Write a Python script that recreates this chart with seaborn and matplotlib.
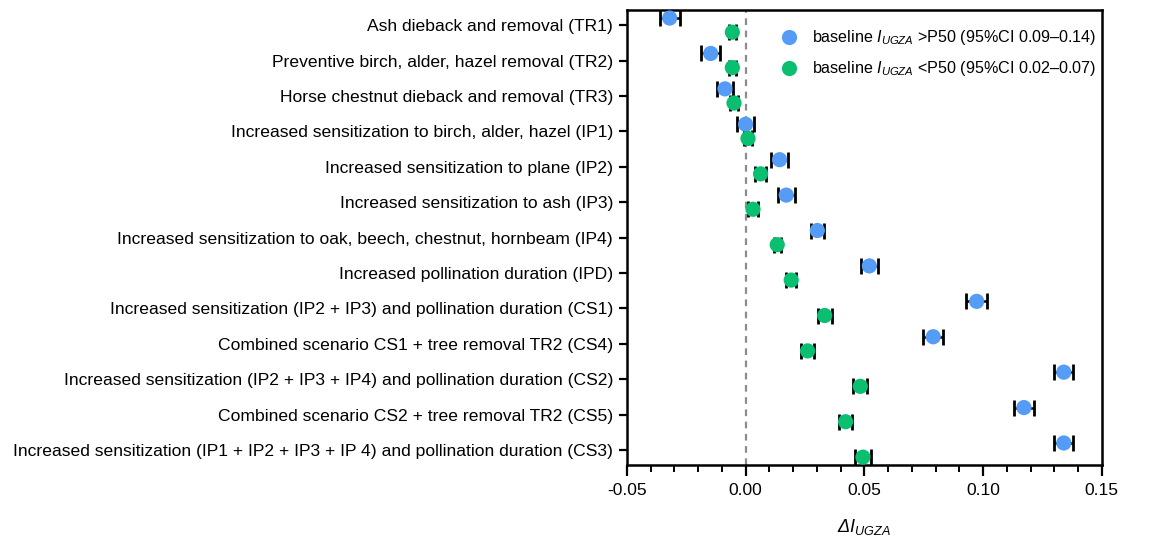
import pandas as pd
import seaborn as sns
import matplotlib.pyplot as plt
import numpy as np
from matplotlib.ticker import MultipleLocator, FormatStrFormatter

# Scenario labels (top to bottom)
scenarios = [
    "Ash dieback and removal (TR1)",
    "Preventive birch, alder, hazel removal (TR2)",
    "Horse chestnut dieback and removal (TR3)",
    "Increased sensitization to birch, alder, hazel (IP1)",
    "Increased sensitization to plane (IP2)",
    "Increased sensitization to ash (IP3)",
    "Increased sensitization to oak, beech, chestnut, hornbeam (IP4)",
    "Increased pollination duration (IPD)",
    "Increased sensitization (IP2 + IP3) and pollination duration (CS1)",
    "Combined scenario CS1 + tree removal TR2 (CS4)",
    "Increased sensitization (IP2 + IP3 + IP4) and pollination duration (CS2)",
    "Combined scenario CS2 + tree removal TR2 (CS5)",
    "Increased sensitization (IP1 + IP2 + IP3 + IP 4) and pollination duration (CS3)",
]

# baseline I_UGZA > P50
high_mean = [-0.032, -0.0147, -0.0087, 0.000, 0.0143, 0.0171, 0.0302, 0.0521,
             0.0973, 0.079, 0.134, 0.1172, 0.134]
high_err = [0.0042, 0.004, 0.0035, 0.0035, 0.0035, 0.0035, 0.0028, 0.0035,
            0.0043, 0.0043, 0.004, 0.0043, 0.004]

# baseline I_UGZA < P50
low_mean = [-0.0056, -0.0056, -0.0049, 0.001, 0.0063, 0.0031, 0.0133, 0.0192,
            0.0333, 0.0261, 0.0483, 0.0421, 0.0494]
low_err = [0.0015, 0.0015, 0.0018, 0.0015, 0.0022, 0.0022, 0.0015, 0.0022,
           0.003, 0.0028, 0.003, 0.0028, 0.0032]

group_names = ["baseline $I_{UGZA}$ >P50 (95%CI 0.09\u20130.14)",
               "baseline $I_{UGZA}$ <P50 (95%CI 0.02\u20130.07)"]
colors = ["#559cf6", "#0bbf70"]

sns.set_style("ticks")
plt.rcParams['font.family'] = ['Liberation Sans', 'DejaVu Sans']
plt.rcParams['mathtext.fontset'] = 'custom'
plt.rcParams['mathtext.rm'] = 'Liberation Sans'
plt.rcParams['mathtext.it'] = 'Liberation Sans:italic'
plt.rcParams['mathtext.bf'] = 'Liberation Sans:bold'
for k in ['text.color', 'axes.labelcolor', 'xtick.color', 'ytick.color', 'axes.edgecolor']:
    plt.rcParams[k] = 'black'

n = len(scenarios)
pos = np.arange(n)
df = pd.DataFrame({
    "scenario": scenarios * 2,
    "y": np.concatenate([pos - 0.2, pos + 0.2]),
    "delta": high_mean + low_mean,
    "err": high_err + low_err,
    "group": [group_names[0]] * n + [group_names[1]] * n,
})

fig = plt.figure(figsize=(11.74, 5.40), dpi=100)
ax = fig.add_axes([0.534, 0.139, 0.4045, 0.842])

ax.axvline(0, color="#8c8c8c", linestyle=(0, (3, 2.5)), linewidth=1.6, zorder=1)

for g, c in zip(group_names, colors):
    d = df[df["group"] == g]
    ax.errorbar(d["delta"], d["y"], xerr=d["err"], fmt="none", ecolor="black",
                elinewidth=1.8, capsize=6, capthick=2.0, zorder=2)

sns.scatterplot(data=df, x="delta", y="y", hue="group", palette=colors,
                s=120, edgecolor="none", ax=ax, zorder=3)

ax.set_xlim(-0.05, 0.15)
ax.set_ylim(n - 1 + 0.42, -0.42)
ax.set_yticks(pos)
ax.set_yticklabels(scenarios, fontsize=12.6)
ax.xaxis.set_major_locator(MultipleLocator(0.05))
ax.xaxis.set_minor_locator(MultipleLocator(0.01))
ax.xaxis.set_major_formatter(FormatStrFormatter("%.2f"))
ax.tick_params(axis="x", which="major", length=8, width=1.6, pad=5, labelsize=12.5)
ax.tick_params(axis="x", which="minor", length=5, width=1.4)
ax.tick_params(axis="y", length=6, width=1.6, pad=4)
for sp in ax.spines.values():
    sp.set_linewidth(1.8)

ax.set_xlabel("\u0394I$_{UGZA}$", fontsize=13, fontstyle="italic", labelpad=14)
ax.set_ylabel("")

leg = ax.legend(loc="upper right", frameon=False, fontsize=11.6,
                handletextpad=0.4, labelspacing=0.75,
                bbox_to_anchor=(1.012, 0.985), borderaxespad=0.3,
                markerscale=1.0)

fig.savefig("out.png", dpi=100)
